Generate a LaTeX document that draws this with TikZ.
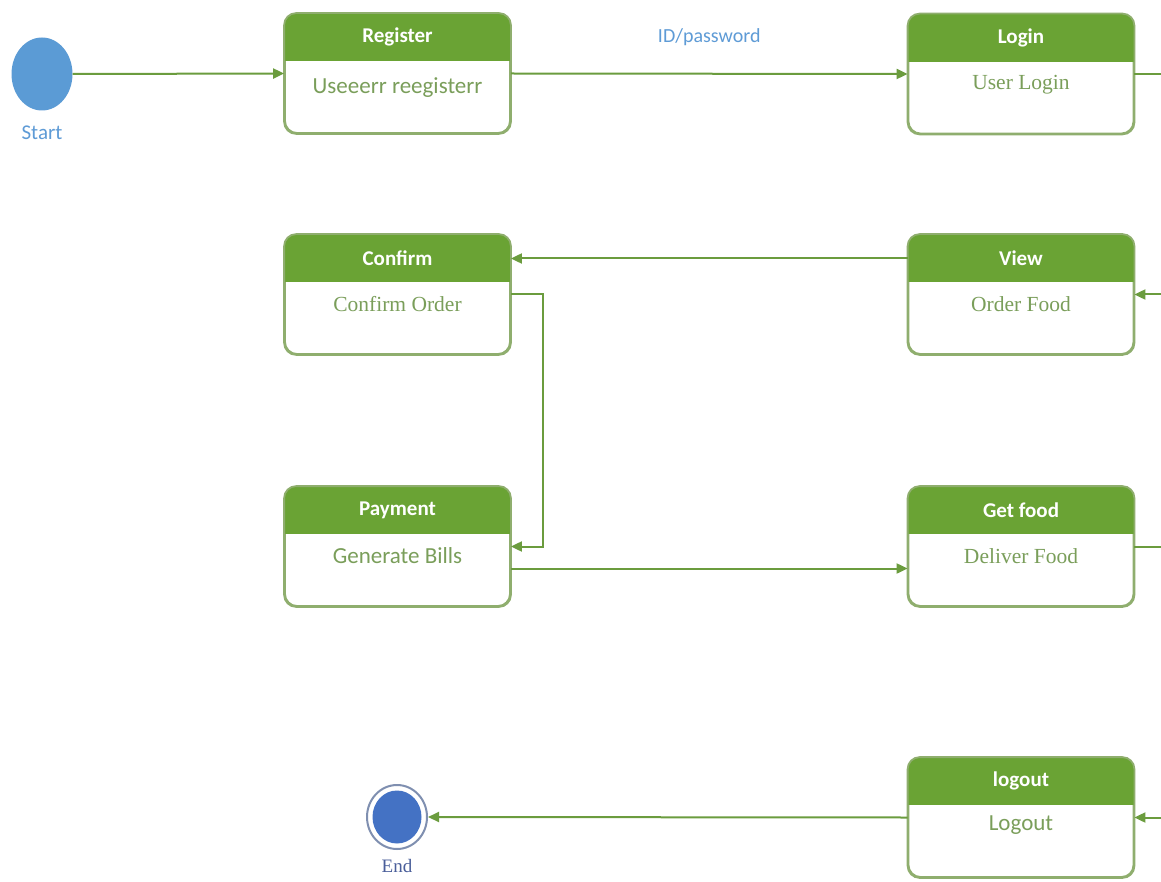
\documentclass[tikz,border=0pt]{standalone}
\usepackage{fontspec}
\setmainfont{Liberation Serif}
\newfontfamily\carlito{Carlito}
\usetikzlibrary{arrows.meta,shapes.geometric}

\definecolor{hdr}{HTML}{6AA334}
\definecolor{boxline}{HTML}{8FAE6E}
\definecolor{bodyclr}{HTML}{7A9E5A}
\definecolor{lineclr}{HTML}{6B9C3E}
\definecolor{lblblue}{HTML}{5E9BD6}
\definecolor{startblue}{HTML}{5B9BD5}
\definecolor{endblue}{HTML}{4472C4}
\definecolor{endring}{HTML}{7F8FB0}
\definecolor{endlbl}{HTML}{4A5E9A}

\tikzset{
  statebox/.style={draw=boxline, line width=1.8pt, rounded corners=12pt,
    minimum width=225pt, minimum height=119pt, inner sep=0pt, fill=white},
  flow/.style={draw=lineclr, line width=2pt, -{Triangle[length=11pt,width=10pt]}},
  plainline/.style={draw=lineclr, line width=2pt},
  ttl/.style={font=\carlito\bfseries\fontsize{21}{25}\selectfont, text=white},
  bodys/.style={font=\carlito\fontsize{23}{27}\selectfont, text=bodyclr},
  bodyr/.style={font=\fontsize{21.5}{25}\selectfont, text=bodyclr},
}

% name, x, y, title, body style, body text, body offset from top
\newcommand\umlstate[7]{%
  \node[statebox] (#1) at (#2,#3) {};
  \begin{scope}
    \clip[rounded corners=12pt] (#1.south west) rectangle (#1.north east);
    \fill[hdr] (#1.north west) rectangle ([yshift=-48pt]#1.north east);
  \end{scope}
  \draw[boxline, line width=1.8pt, rounded corners=12pt] (#1.south west) rectangle (#1.north east);
  \node[ttl] (#1-t) at ([yshift=-24pt]#1.north) {#4};
  \node[#5] (#1-b) at ([yshift=-#7pt]#1.north) {#6};
}

\begin{document}
\begin{tikzpicture}[x=1pt,y=-1pt]
\useasboundingbox[fill=white] (0,0) rectangle (1161,882);

% start
\node[ellipse, fill=startblue, minimum width=61pt, minimum height=73pt, inner sep=0pt] (start) at (42,74) {};
\node[font=\carlito\fontsize{21}{25}\selectfont, text=lblblue] (startlbl) at (42,133) {Start};

% states
\umlstate{reg}{397.5}{73.5}{Register}{bodys}{Useeerr reegisterr}{74}
\umlstate{login}{1021}{74}{Login}{bodyr}{User Login}{71}
\umlstate{confirm}{397.5}{294.5}{Confirm}{bodyr}{Confirm Order}{70}
\umlstate{view}{1021}{294.5}{View}{bodyr}{Order Food}{70}
\umlstate{payment}{397.5}{546.5}{Payment}{bodys}{Generate Bills}{69}
\umlstate{getfood}{1021}{546.5}{Get food}{bodyr}{Deliver Food}{70}
\umlstate{logout}{1021}{817.5}{logout}{bodys}{Logout}{68}

% end
\node[ellipse, draw=endring, line width=2pt, fill=white, minimum width=60pt, minimum height=64pt, inner sep=0pt] (end) at (397,817) {};
\node[ellipse, fill=endblue, minimum width=49pt, minimum height=53pt, inner sep=0pt] (endin) at (end.center) {};
\node[font=\fontsize{19}{22}\selectfont, text=endlbl] (endlbl) at (397,866) {End};

% free ends at the right margin
\coordinate (r1) at (1161,74);
\coordinate (r2) at (1161,294.5);
\coordinate (r3) at (1161,546.5);
\coordinate (r4) at (1161,817.5);

% connectors
\draw[flow] (start.east) -- (reg.west);
\draw[flow] (reg.east) -- node[pos=0.5, yshift=37pt, font=\carlito\fontsize{20}{24}\selectfont, text=lblblue] (idpw) {ID/password} (login.west);
\draw[plainline] (login.east) -- (r1);
\draw[flow] (r2) -- (view.east);
\draw[flow] ([yshift=36pt]view.west) -- ([yshift=36pt]confirm.east);
\draw[flow] (confirm.east) -- ++(32pt,0) |- (payment.east);
\draw[flow] ([yshift=-22pt]payment.east) -- ([yshift=-22pt]getfood.west);
\draw[plainline] (getfood.east) -- (r3);
\draw[flow] (r4) -- (logout.east);
\draw[flow] (logout.west) -- (end.east);
\end{tikzpicture}
\end{document}
